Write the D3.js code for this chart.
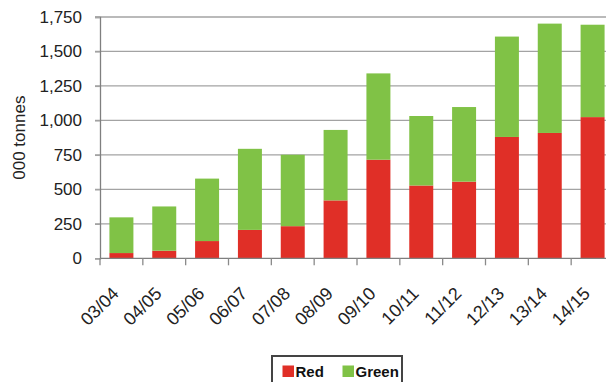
<!DOCTYPE html>
<html>
<head>
<meta charset="utf-8">
<script src="https://cdn.jsdelivr.net/npm/d3@7"></script>
<style>
  body { margin: 0; background: #fff; }
  svg { display: block; font-family: "Liberation Sans", Arial, sans-serif; }
</style>
</head>
<body>
<div id="chart"></div>
<script>
const years = ["03/04", "04/05", "05/06", "06/07", "07/08", "08/09", "09/10", "10/11", "11/12", "12/13", "13/14", "14/15"];
const red = [38, 55, 125, 206, 233, 420, 715, 528, 556, 880, 909, 1024];
const green = [259, 321, 453, 588, 518, 511, 626, 504, 541, 728, 793, 670];
const yTicks = [0, 250, 500, 750, 1000, 1250, 1500, 1750];
const seriesNames = ["Red", "Green"];
const colors = ["#e02f27", "#80c246"];

const width = 606;
const height = 382;
const margin = { top: 17, left: 100, bottom: 122 };
const plotRight = 614; // plot runs off the right edge

const svg = d3.select("#chart").append("svg")
  .attr("width", width)
  .attr("height", height);

const rows = years.map((y, i) => ({ year: y, Red: red[i], Green: green[i] }));
const stacked = d3.stack().keys(seriesNames)(rows);

const x = d3.scaleBand()
  .domain(years)
  .range([margin.left, plotRight])
  .paddingInner(0.44)
  .paddingOuter(0.22);

const y = d3.scaleLinear()
  .domain([0, 1750])
  .range([height - margin.bottom - 1.7, margin.top]);

// gridlines
svg.append("g")
  .selectAll("line")
  .data(yTicks.filter((d) => d > 0))
  .join("line")
  .attr("x1", margin.left - 5)
  .attr("x2", width)
  .attr("y1", (d) => y(d))
  .attr("y2", (d) => y(d))
  .attr("stroke", "#a3a3a3")
  .attr("stroke-width", 1.3);

// bars
svg.append("g")
  .selectAll("g")
  .data(stacked)
  .join("g")
  .attr("fill", (d, i) => colors[i])
  .selectAll("rect")
  .data((d) => d)
  .join("rect")
  .attr("x", (d) => x(d.data.year))
  .attr("width", x.bandwidth())
  .attr("y", (d) => y(d[1]))
  .attr("height", (d) => y(d[0]) - y(d[1]));

// y axis
const gy = svg.append("g")
  .attr("transform", `translate(${margin.left},0)`)
  .call(d3.axisLeft(y).tickValues(yTicks).tickSize(5).tickPadding(13).tickFormat(d3.format(",")));
gy.select(".domain").attr("stroke", "#7f7f7f").attr("stroke-width", 1.3);
gy.selectAll(".tick line").attr("stroke", "#a3a3a3").attr("stroke-width", 1.3);
gy.selectAll("text").attr("font-size", 17).attr("fill", "#222");

// x axis with ticks at band boundaries
const y0 = y(0);
svg.append("line")
  .attr("x1", margin.left).attr("x2", width)
  .attr("y1", y0).attr("y2", y0)
  .attr("stroke", "#7f7f7f").attr("stroke-width", 1.3);

const step = x.step();
svg.append("g")
  .selectAll("line")
  .data(years)
  .join("line")
  .attr("x1", (d) => x(d) - step * 0.22)
  .attr("x2", (d) => x(d) - step * 0.22)
  .attr("y1", y0)
  .attr("y2", y0 + 7)
  .attr("stroke", "#8a8a8a")
  .attr("stroke-width", 1.3);

svg.append("g")
  .selectAll("text")
  .data(years)
  .join("text")
  .attr("transform", (d) => `translate(${x(d) + x.bandwidth() / 2 - 6},${y0 + 32}) rotate(-45)`)
  .attr("text-anchor", "end")
  .attr("dy", "0.35em")
  .attr("font-size", 18)
  .attr("fill", "#222")
  .text((d) => d);

// y title
svg.append("text")
  .attr("transform", `translate(25,${(y(0) + y(1750)) / 2}) rotate(-90)`)
  .attr("text-anchor", "middle")
  .attr("font-size", 17)
  .attr("fill", "#222")
  .text("000 tonnes");

// legend
const lg = svg.append("g");
lg.append("rect")
  .attr("x", 272).attr("y", 356)
  .attr("width", 130).attr("height", 40)
  .attr("fill", "#fff")
  .attr("stroke", "#444")
  .attr("stroke-width", 2);

const items = [{ name: "Red", x: 282.5 }, { name: "Green", x: 342.5 }];
items.forEach((it, i) => {
  lg.append("rect")
    .attr("x", it.x).attr("y", 365.5)
    .attr("width", 11.5).attr("height", 11.5)
    .attr("fill", colors[i]);
  lg.append("text")
    .attr("x", it.x + 13).attr("y", 377)
    .attr("font-size", 15)
    .attr("font-weight", "bold")
    .attr("fill", "#111")
    .text(it.name);
});
</script>
</body>
</html>
